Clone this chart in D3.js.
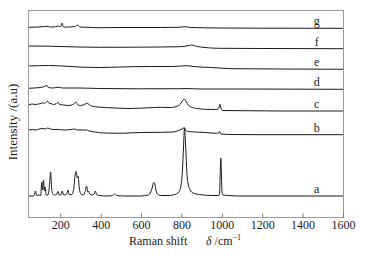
<!DOCTYPE html>
<html><head><meta charset="utf-8">
<script src="https://cdn.jsdelivr.net/npm/d3@7/dist/d3.min.js"></script>
<style>
html,body{margin:0;padding:0;background:#fff;}
svg{display:block;}
text{font-family:"Liberation Serif","Times New Roman",serif;fill:#1a1a1a;}
</style></head>
<body><svg id="chart" width="369" height="258"></svg>
<script>
// Raman shift (cm^-1), intensity (a.u., offset stacked)
const seriesA = [[40,22],[66,22],[71,23],[77,27],[83,22.5],[96,23],[103,22.5],[108,36],[112,28],[117,38],[121,27],[125,31],[130,23],[139,23],[146,32],[152,46],[157,30],[163,24],[171,23],[181,23.5],[189,26.5],[195,23],[202,23],[210,27],[217,23],[230,23.5],[238,28],[244,23.5],[257,23.5],[267,30],[274,44],[279,46.5],[284,40],[288,41.5],[294,30],[302,24],[314,23],[322,26],[330,32],[336,26],[340,27],[345,24],[358,23],[367,24],[373,27],[380,23.5],[393,22.5],[434,22],[459,22.5],[470,24],[480,22.5],[515,22],[596,22],[636,23],[648,26],[656,31],[661,35],[664,35.5],[669,33],[676,26],[684,23.5],[696,22.5],[737,22.5],[767,23.5],[787,26],[797,32],[805,48],[810,70],[815,90],[820,75],[826,48],[833,34],[843,28],[858,25],[889,23.5],[949,22.5],[984,22.5],[989,25],[992,45],[995,60],[998,44],[1001,26],[1005,23],[1030,22.5],[1100,22],[1605,22]];
const seriesB = [[40,88],[60,88.5],[80,88],[95,89],[114,89.5],[125,89],[138,90],[150,89],[170,88.5],[190,88.5],[221,88],[252,88.5],[271,89],[287,88],[313,88],[328,88],[343,87],[373,86],[414,85],[495,84.7],[596,85.5],[697,85.7],[757,86],[787,87.5],[803,89],[815,90.3],[820,88],[833,86.5],[868,86],[919,85.5],[974,84.7],[984,85],[990,86.5],[995,84],[1050,83.5],[1200,83.3],[1605,83.3]];
const seriesC = [[40,113],[50,113.5],[60,114],[75,113.5],[90,114],[105,114.5],[114,115.3],[122,114.5],[130,116],[136,117],[143,115],[155,114.3],[166,113.5],[181,114.5],[189,115.7],[197,113.5],[217,113],[242,112.5],[262,113.5],[277,115.7],[288,113],[300,112.3],[318,113.5],[334,114.7],[348,112.5],[373,111.3],[424,110.5],[470,110],[546,109.5],[647,110.3],[697,110.7],[747,110.5],[777,111.5],[793,113.5],[803,116.5],[810,118.5],[816,118.7],[823,116.5],[833,113],[848,111],[878,109.5],[919,108.7],[969,108.5],[981,109],[987,111],[991,113.7],[995,110],[1004,107.5],[1100,107.3],[1300,107],[1605,107]];
const seriesD = [[40,129.7],[70,130],[100,130.5],[121,131.5],[134,132.5],[141,130.5],[161,130],[191,130.7],[211,130],[292,130],[394,129.5],[596,129.2],[797,129.3],[818,129.5],[898,129],[1100,129],[1605,128.7]];
const seriesE = [[40,152],[91,152.3],[141,152.5],[191,152.2],[292,151],[394,150.5],[495,151],[646,151.5],[757,151.5],[797,152],[828,152.3],[858,151.5],[949,150.5],[1050,149.3],[1300,149],[1605,148.7]];
const seriesF = [[40,172],[141,171.8],[292,171],[394,170.7],[545,170.8],[697,171],[797,171.3],[838,172.5],[850,173],[878,171.5],[989,169.7],[1200,169.5],[1605,169.3]];
const seriesG = [[40,190.7],[91,191],[116,191.3],[134,191.7],[151,191],[176,191.2],[191,192],[199,191.2],[204,192.5],[209,195],[214,191.5],[219,190.8],[242,191],[272,191.5],[287,193],[297,191],[322,190.8],[394,190.3],[495,190.5],[697,190.5],[787,190.7],[818,191.3],[848,190.5],[989,190],[1200,189.8],[1605,189.7]];
const seriesNames = ["a","b","c","d","e","f","g"];
const xTicks = [200,400,600,800,1000,1200,1400,1600];
const labelShift = 1470;

const allSeries = [seriesA,seriesB,seriesC,seriesD,seriesE,seriesF,seriesG];
const svg = d3.select("#chart");
const L = 28, R = 344, T = 10, B = 218;
const x = d3.scaleLinear().domain([40,1605]).range([L,R]);
const y = d3.scaleLinear().domain([0,208]).range([B,T]);

// spectra
const line = d3.line().x(d=>x(d[0])).y(d=>y(d[1])).curve(d3.curveMonotoneX);
svg.append("g").selectAll("path").data(allSeries).join("path")
  .attr("d", line).attr("fill","none").attr("stroke","#1a1a1a").attr("stroke-width",1);

// frame
svg.append("rect").attr("x",L+0.5).attr("y",T+0.5).attr("width",R-L-1).attr("height",B-T-1)
  .attr("fill","none").attr("stroke","#9a9a9a").attr("stroke-width",1);

// bottom axis (ticks inward)
const ax = svg.append("g").attr("transform",`translate(0,${B-0.5})`)
  .call(d3.axisBottom(x).tickValues(xTicks).tickSizeInner(-4).tickSizeOuter(0).tickPadding(3).tickFormat(d3.format("d")));
ax.select(".domain").remove();
ax.selectAll("line").attr("stroke","#7a7a7a");
ax.selectAll("text").attr("font-size","12px").attr("font-family","Liberation Serif").attr("fill","#1a1a1a");

// series labels
svg.append("g").selectAll("text").data(allSeries).join("text")
  .attr("x", x(labelShift)).attr("y", d=>y(d[d.length-1][1]) - 3)
  .attr("text-anchor","middle").attr("font-size","12px")
  .text((d,i)=>seriesNames[i]);

// axis titles
svg.append("text").attr("x",129).attr("y",245).attr("font-size","12px").text("Raman shift");
const dl = svg.append("text").attr("x",206).attr("y",245).attr("font-size","12px");
dl.append("tspan").attr("font-style","italic").text("δ");
dl.append("tspan").text(" /cm");
dl.append("tspan").attr("font-size","8px").attr("dy","-5").text("−1");
svg.append("text").attr("transform","translate(17,122) rotate(-90)")
  .attr("text-anchor","middle").attr("font-size","13px").text("Intensity /(a.u)");
</script></body></html>
